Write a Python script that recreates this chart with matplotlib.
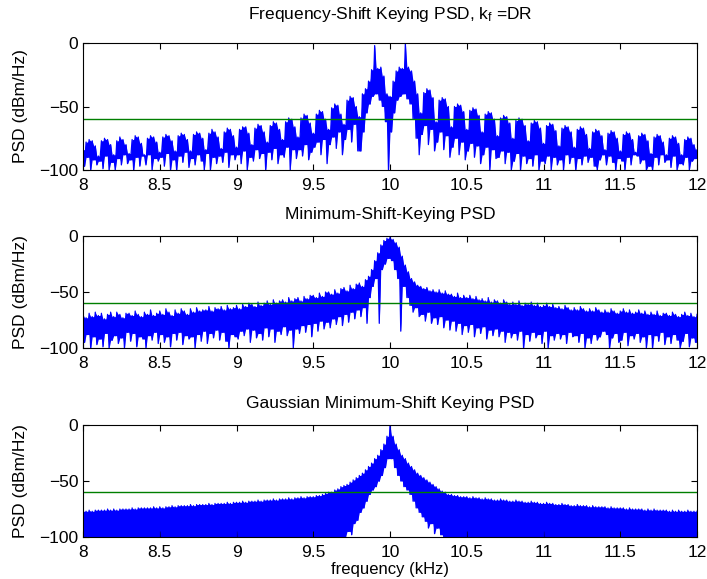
"""Recreate the FSK / MSK / GMSK power spectral density comparison figure."""

import matplotlib as mpl
mpl.use("Agg")
import matplotlib.pyplot as plt
import numpy as np


# Frequency span (kHz) and the sampling steps used when reading the traces
F_START, F_STOP = 8.0, 12.0
THRESHOLD_DBM = -60

# Upper trace of each PSD, read every 0.02 kHz from 8.00 to 12.00 (201 values)
fsk_peaks = [
    -84, -78, -76, -77, -81,  -89, -77, -75, -76, -80,  -88, -77, -74, -76, -80,  -87, -76, -73, -74, -79,
    -88, -75, -73, -74, -78,  -86, -74, -72, -73, -77,  -85, -73, -71, -72, -76,  -85, -72, -70, -71, -75,
    -84, -71, -68, -70, -74,  -83, -70, -67, -68, -73,  -82, -68, -66, -66, -71,  -80, -67, -64, -65, -70,
    -78, -65, -62, -63, -68,  -76, -62, -59, -60, -66,  -74, -59, -56, -57, -63,  -71, -56, -53, -54, -60,
    -68, -51, -48, -49, -56,  -64, -45, -42, -43, -50,  -58, -40, -36, -30, -21,  -2, -20, -19, -26, -40,
    -42, -30, -22, -19, -20,  0, -19, -22, -30, -40,  -55, -39, -36, -37, -43,  -62, -45, -43, -44, -50,
    -66, -50, -48, -49, -54,  -68, -53, -51, -52, -57,  -70, -56, -54, -55, -60,  -73, -59, -57, -58, -63,
    -75, -61, -59, -60, -65,  -77, -63, -61, -62, -67,  -79, -65, -63, -64, -69,  -81, -67, -65, -66, -70,
    -82, -68, -66, -67, -72,  -83, -70, -68, -69, -73,  -84, -71, -69, -70, -75,  -85, -72, -70, -71, -76,
    -86, -73, -71, -72, -77,  -87, -74, -72, -73, -78,  -88, -75, -73, -74, -79,  -88, -76, -74, -75, -80,
    -84,
]
msk_peaks = [
    -70, -73, -69, -72, -68,  -71, -69, -74, -70, -68,  -72, -68, -70, -73, -69,  -69, -71, -67, -70, -72,
    -68, -70, -66, -71, -69,  -67, -70, -65, -68, -71,  -66, -69, -65, -67, -70,  -65, -68, -64, -67, -66,
    -66, -63, -67, -64, -65,  -63, -66, -62, -65, -64,  -62, -65, -61, -63, -60,  -61, -63, -59, -62, -60,
    -58, -61, -57, -60, -58,  -57, -59, -55, -58, -56,  -55, -58, -54, -56, -53,  -53, -55, -51, -54, -50,
    -50, -52, -48, -51, -47,  -46, -49, -44, -47, -43,  -42, -45, -39, -36, -30,  -22, -15, -8, -4, -2,
    -1, -3, -6, -10, -18,  -26, -32, -38, -41, -44,  -45, -47, -46, -49, -48,  -50, -48, -51, -49, -52,
    -52, -54, -51, -55, -53,  -55, -53, -56, -54, -57,  -56, -58, -55, -59, -57,  -58, -60, -57, -59, -61,
    -59, -61, -58, -62, -60,  -61, -59, -62, -60, -63,  -62, -60, -63, -61, -64,  -63, -65, -62, -64, -66,
    -64, -66, -63, -65, -67,  -65, -67, -64, -66, -68,  -66, -68, -65, -67, -69,  -67, -65, -68, -66, -69,
    -68, -66, -69, -67, -70,  -68, -70, -67, -71, -69,  -69, -71, -68, -70, -72,  -70, -68, -71, -69, -72,
    -70,
]
gmsk_peaks = [
    -77, -77, -76, -77, -76,  -76, -76, -76, -75, -76,  -75, -76, -75, -75, -75,  -75, -74, -75, -74, -74,
    -74, -74, -74, -73, -74,  -73, -74, -73, -73, -72,  -73, -72, -72, -72, -72,  -71, -72, -71, -71, -71,
    -71, -70, -71, -70, -70,  -70, -70, -69, -70, -69,  -69, -69, -68, -69, -68,  -68, -68, -67, -68, -67,
    -67, -67, -66, -67, -66,  -66, -66, -65, -66, -65,  -65, -64, -65, -64, -64,  -64, -63, -63, -62, -61,
    -60, -60, -58, -57, -55,  -54, -53, -51, -49, -47,  -45, -43, -40, -37, -34,  -30, -27, -22, -17, -10,
    0, -10, -17, -22, -27,  -30, -34, -37, -40, -43,  -45, -47, -49, -51, -53,  -55, -57, -59, -60, -62,
    -62, -63, -63, -64, -64,  -64, -65, -64, -65, -65,  -66, -65, -66, -66, -67,  -67, -66, -67, -67, -68,
    -68, -67, -68, -68, -69,  -69, -68, -69, -69, -70,  -70, -69, -70, -70, -71,  -71, -70, -71, -71, -72,
    -72, -71, -72, -72, -72,  -73, -72, -73, -73, -73,  -73, -74, -73, -74, -74,  -74, -74, -75, -74, -75,
    -75, -75, -75, -76, -75,  -76, -75, -76, -76, -76,  -76, -77, -76, -77, -76,  -77, -77, -76, -77, -77,
    -77,
]

# Lower trace of each PSD, read at the midpoints 8.01, 8.03, ... 11.99 kHz (200 values)
fsk_dips = [
    -97, -90, -100, -92, -96,  -93, -99, -89, -100, -94,  -100, -91, -96, -88, -95,  -92, -100, -90, -97, -89,
    -96, -88, -100, -91, -93,  -90, -97, -87, -100, -92,  -100, -89, -94, -86, -98,  -91, -96, -88, -93, -100,
    -87, -100, -90, -95, -89,  -94, -86, -98, -88, -92,  -88, -95, -85, -100, -90,  -93, -84, -91, -87, -100,
    -86, -92, -83, -95, -88,  -90, -82, -100, -84, -91,  -84, -89, -80, -92, -86,  -82, -78, -88, -76, -95,
    -80, -74, -83, -70, -88,  -76, -68, -78, -64, -85,  -85, -70, -55, -48, -42,  -40, -45, -50, -62, -100,
    -70, -55, -45, -42, -40,  -44, -48, -60, -75, -88,  -72, -65, -80, -68, -85,  -78, -70, -84, -73, -90,
    -82, -75, -88, -78, -92,  -85, -79, -90, -81, -95,  -88, -82, -100, -84, -91,  -90, -85, -95, -86, -100,
    -93, -87, -100, -89, -95,  -91, -97, -88, -100, -93,  -95, -89, -100, -90, -96,  -92, -100, -88, -95, -90,
    -100, -91, -96, -89, -94,  -90, -97, -100, -92, -88,  -96, -89, -94, -100, -91,  -93, -100, -90, -96, -88,
    -89, -95, -92, -100, -97,  -100, -90, -96, -88, -94,  -92, -98, -89, -100, -95,  -96, -90, -100, -93, -91,
]
msk_dips = [
    -95, -88, -100, -90, -97,  -92, -99, -87, -100, -93,  -89, -96, -91, -100, -86,  -94, -87, -99, -90, -92,
    -100, -89, -93, -86, -96,  -88, -95, -90, -99, -87,  -93, -86, -97, -89, -92,  -90, -100, -88, -94, -85,
    -96, -87, -91, -84, -93,  -86, -94, -100, -88, -90,  -92, -85, -89, -83, -95,  -84, -91, -87, -93, -82,
    -90, -83, -95, -85, -88,  -81, -89, -84, -100, -83,  -87, -80, -86, -79, -90,  -78, -85, -76, -83, -77,
    -82, -74, -79, -72, -80,  -70, -77, -68, -74, -66,  -72, -64, -78, -55, -45,  -38, -78, -30, -25, -20,
    -22, -30, -38, -85, -45,  -55, -62, -68, -64, -72,  -70, -76, -68, -78, -73,  -79, -72, -82, -75, -84,
    -76, -85, -78, -88, -80,  -86, -79, -90, -82, -87,  -81, -92, -84, -89, -83,  -90, -85, -95, -86, -91,
    -87, -93, -85, -100, -88,  -94, -86, -91, -88, -96,  -85, -100, -89, -93, -87,  -92, -88, -96, -86, -90,
    -89, -95, -87, -100, -91,  -96, -88, -93, -90, -85,  -88, -100, -91, -87, -95,  -93, -86, -98, -89, -92,
    -87, -95, -90, -100, -88,  -100, -89, -94, -86, -97,  -90, -96, -88, -93, -100,  -94, -87, -99, -91, -95,
]
gmsk_dips = [
    -100, -100, -100, -100, -100,  -100, -100, -100, -100, -100,  -100, -100, -100, -100, -100,  -100, -100, -100, -100, -100,
    -100, -100, -100, -100, -100,  -100, -100, -100, -100, -100,  -100, -100, -100, -100, -100,  -100, -100, -100, -100, -100,
    -100, -100, -100, -100, -100,  -100, -100, -100, -100, -100,  -100, -100, -100, -100, -100,  -100, -100, -100, -100, -100,
    -100, -100, -100, -100, -100,  -100, -100, -100, -100, -100,  -100, -100, -100, -100, -100,  -100, -100, -100, -100, -100,
    -100, -100, -100, -100, -100,  -100, -95, -98, -88, -85,  -78, -74, -68, -62, -58,  -55, -50, -45, -38, -30,
    -30, -38, -45, -50, -55,  -58, -62, -68, -74, -78,  -82, -86, -92, -88, -97,  -92, -98, -100, -100, -100,
    -100, -100, -100, -100, -100,  -100, -100, -100, -100, -100,  -100, -100, -100, -100, -100,  -100, -100, -100, -100, -100,
    -100, -100, -100, -100, -100,  -100, -100, -100, -100, -100,  -100, -100, -100, -100, -100,  -100, -100, -100, -100, -100,
    -100, -100, -100, -100, -100,  -100, -100, -100, -100, -100,  -100, -100, -100, -100, -100,  -100, -100, -100, -100, -100,
    -100, -100, -100, -100, -100,  -100, -100, -100, -100, -100,  -100, -100, -100, -100, -100,  -100, -100, -100, -100, -100,
]

titles = [
    r"Frequency-Shift Keying PSD, k$_\mathregular{f}$ =DR",
    "Minimum-Shift-Keying PSD",
    "Gaussian Minimum-Shift Keying PSD",
]
x_ticks = [8, 8.5, 9, 9.5, 10, 10.5, 11, 11.5, 12]
x_tick_labels = ["8", "8.5", "9", "9.5", "10", "10.5", "11", "11.5", "12"]
y_ticks = [-100, -50, 0]


def _trace(peaks, dips):
    """Interleave the upper and lower readings into one dense PSD trace.

    Also returns the solid body of the trace: between each peak and the
    shallower of its neighbouring dips, and between each dip and the lower
    of its neighbouring peaks.
    """
    peaks = np.asarray(peaks, dtype=float)
    dips = np.asarray(dips, dtype=float)
    f_peaks = np.linspace(F_START, F_STOP, len(peaks))
    f_dips = (f_peaks[:-1] + f_peaks[1:]) / 2

    freq = np.empty(len(peaks) + len(dips))
    level = np.empty_like(freq)
    freq[0::2], freq[1::2] = f_peaks, f_dips
    level[0::2], level[1::2] = peaks, dips

    upper = level.copy()
    upper[1::2] = np.minimum(peaks[:-1], peaks[1:])
    lower = level.copy()
    lower[2:-1:2] = np.maximum(dips[:-1], dips[1:])
    lower[0], lower[-1] = dips[0], dips[-1]
    return freq, level, lower, upper


def main() -> None:
    mpl.rcParams.update(
        {
            "font.family": ["Liberation Sans", "DejaVu Sans"],
            "font.size": 12,
            "axes.linewidth": 0.8,
            "xtick.direction": "in",
            "ytick.direction": "in",
            "xtick.top": True,
            "ytick.right": True,
            "xtick.major.size": 4,
            "ytick.major.size": 4,
            "xtick.major.pad": 6,
            "xtick.labelsize": 12.5,
            "ytick.labelsize": 12.5,
            "mathtext.default": "regular",
        }
    )

    fig = plt.figure(figsize=(7.07, 5.79), dpi=100)
    # [left, bottom, width, height] in figure fractions, matched to the reference
    boxes = [
        [0.1174, 0.7064, 0.8685, 0.2193],
        [0.1174, 0.3990, 0.8685, 0.1934],
        [0.1174, 0.0725, 0.8685, 0.1934],
    ]
    title_pads = [17, 12, 12]
    series = [(fsk_peaks, fsk_dips), (msk_peaks, msk_dips), (gmsk_peaks, gmsk_dips)]

    for i, (box, (peaks, dips), title) in enumerate(zip(boxes, series, titles)):
        ax = fig.add_axes(box)
        freq, level, lower, upper = _trace(peaks, dips)
        ax.fill_between(freq, lower, upper, color="#0000ff", linewidth=0)
        ax.plot(freq, level, color="#0000ff", linewidth=0.9)
        ax.axhline(THRESHOLD_DBM, color="#007f00", linewidth=1.0)
        ax.set_xlim(F_START, F_STOP)
        ax.set_ylim(-100, 0)
        ax.set_xticks(x_ticks)
        ax.set_xticklabels(x_tick_labels)
        ax.set_yticks(y_ticks)
        ax.set_ylabel("PSD (dBm/Hz)", fontsize=12.5, labelpad=8)
        ax.set_title(title, fontsize=12.5, pad=title_pads[i])
        if i == 2:
            ax.set_xlabel("frequency (kHz)", fontsize=12, labelpad=1)

    fig.savefig("out.png", dpi=100)


if __name__ == "__main__":
    main()
